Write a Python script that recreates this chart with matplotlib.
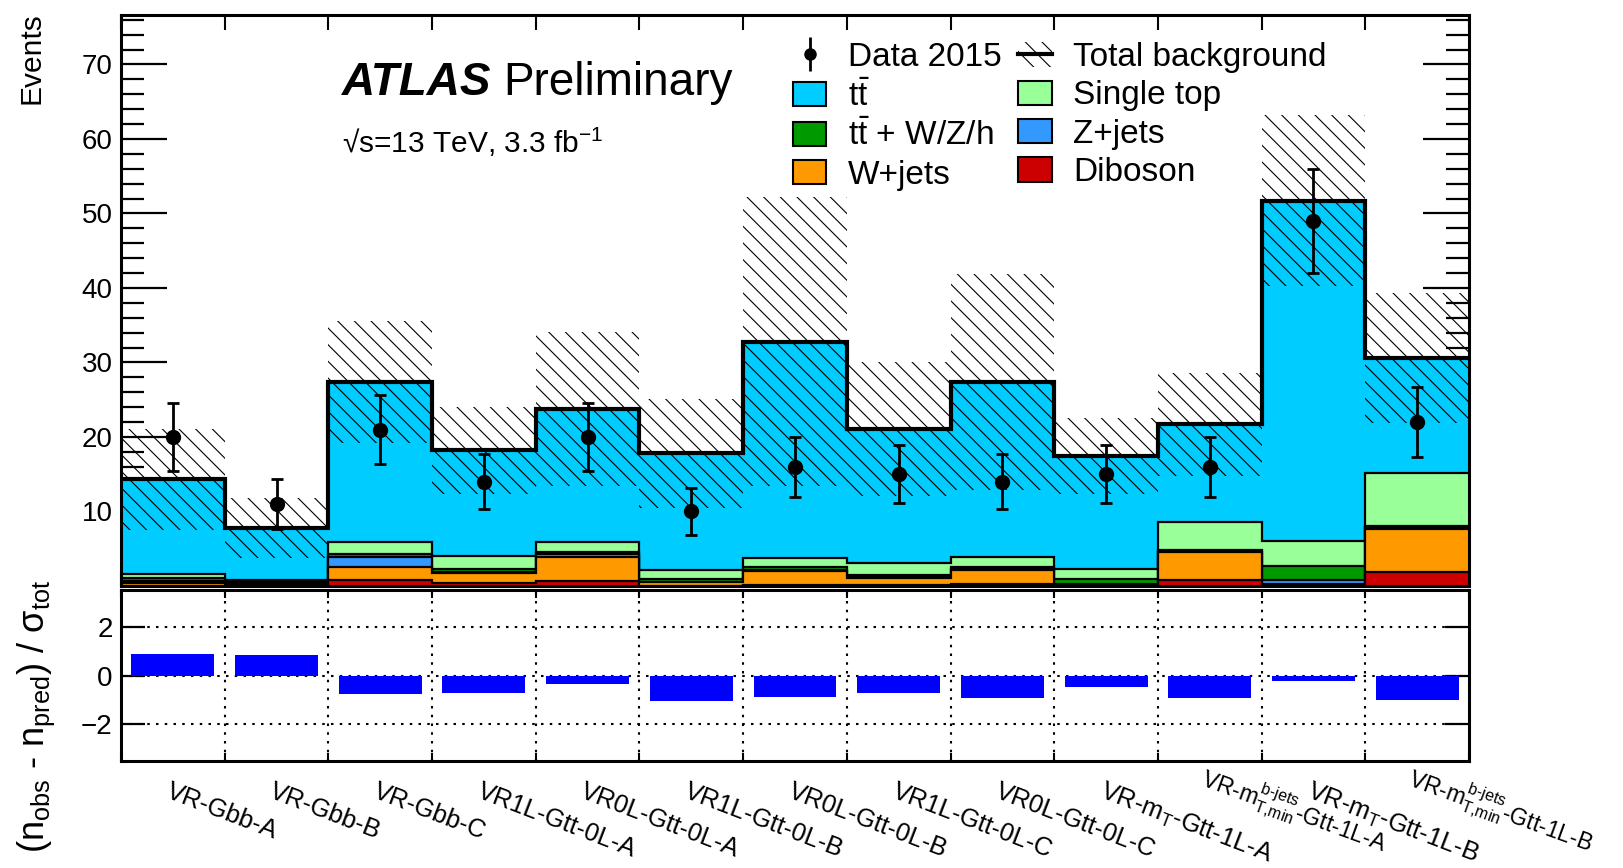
import numpy as np
import matplotlib
matplotlib.use("Agg")
import matplotlib.pyplot as plt
from matplotlib.patches import Patch
from matplotlib.lines import Line2D
from matplotlib.ticker import FixedLocator, MultipleLocator, NullFormatter

plt.rcParams['font.family'] = ['Liberation Sans', 'DejaVu Sans']
plt.rcParams['mathtext.fontset'] = 'custom'
plt.rcParams['mathtext.rm'] = 'Liberation Sans'
plt.rcParams['mathtext.it'] = 'Liberation Sans:italic'
plt.rcParams['mathtext.bf'] = 'Liberation Sans:bold'
plt.rcParams['mathtext.sf'] = 'Liberation Sans'
plt.rcParams['hatch.linewidth'] = 0.8

# ---------------- data ----------------
regions = ['VR-Gbb-A', 'VR-Gbb-B', 'VR-Gbb-C', 'VR1L-Gtt-0L-A', 'VR0L-Gtt-0L-A',
           'VR1L-Gtt-0L-B', 'VR0L-Gtt-0L-B', 'VR1L-Gtt-0L-C', 'VR0L-Gtt-0L-C',
           r'VR-m$_{\mathrm{T}}$-Gtt-1L-A',
           r'VR-m$^{\text{b-jets}}_{\text{T,min}}$-Gtt-1L-A',
           r'VR-m$_{\mathrm{T}}$-Gtt-1L-B',
           r'VR-m$^{\text{b-jets}}_{\text{T,min}}$-Gtt-1L-B']

diboson   = [0.05, 0.05, 0.8, 0.4, 0.7, 0.05, 0.2, 0.1, 0.25, 0.1, 0.8, 0.05, 1.9]
wjets     = [0.35, 0.15, 1.8, 1.4, 3.25, 0.5, 1.85, 1.0, 1.9, 0.1, 3.7, 0.2, 5.8]
zjets     = [0.3, 0.2, 1.3, 0.1, 0.4, 0.05, 0.1, 0.05, 0.15, 0.1, 0.1, 0.55, 0.1]
ttv       = [0.35, 0.2, 0.4, 0.4, 0.2, 0.3, 0.4, 0.3, 0.3, 0.7, 0.2, 1.95, 0.3]
singletop = [0.5, 0.2, 1.6, 1.7, 1.35, 1.2, 1.2, 1.6, 1.25, 1.3, 3.8, 3.35, 7.0]
ttbar     = [12.75, 7.0, 21.5, 14.2, 17.85, 15.7, 29.05, 18.05, 23.55, 15.2, 13.1, 45.6, 15.5]
bkg_unc   = [6.8, 4.0, 8.2, 5.8, 10.3, 7.3, 19.4, 9.0, 14.5, 5.1, 6.9, 11.5, 8.7]

data     = [20, 11, 21, 14, 20, 10, 16, 15, 14, 15, 16, 49, 22]
data_err = [4.6, 3.3, 4.6, 3.7, 4.5, 3.2, 4.0, 3.9, 3.7, 3.9, 4.0, 7.0, 4.7]

significance = [0.87, 0.83, -0.75, -0.71, -0.34, -1.03, -0.87, -0.71, -0.91, -0.46, -0.91, -0.22, -0.99]

labels = ['Diboson', 'W+jets', 'Z+jets', r't$\bar{\mathrm{t}}$ + W/Z/h', 'Single top', r't$\bar{\mathrm{t}}$']
colors = ['#CC0000', '#FF9900', '#3399FF', '#009900', '#99FF99', '#00CCFF']

# ---------------- figure ----------------
W, H = 1623, 868
fig = plt.figure(figsize=(W / 100, H / 100), dpi=100)
ax = fig.add_axes([121 / W, 1 - 586 / H, (1469 - 121) / W, (586 - 14.5) / H])
rax = fig.add_axes([121 / W, 1 - 761 / H, (1469 - 121) / W, (761 - 590) / H])

nb = len(regions)
edges = np.arange(nb + 1)
centers = edges[:-1] + 0.5

comps = np.array([diboson, wjets, zjets, ttv, singletop, ttbar])
cum = np.cumsum(comps, axis=0)
total = cum[-1]

z = 2
for i in range(len(comps) - 1, -1, -1):
    ax.stairs(cum[i], edges, baseline=0, fill=True, facecolor=colors[i], edgecolor='none', zorder=z)
    ax.stairs(cum[i], edges, baseline=None, color='black', lw=1.6, zorder=z + 0.5)
    z += 1

unc = np.array(bkg_unc)
ax.bar(centers, 2 * unc, bottom=total - unc, width=1.0, fill=False, hatch='\\\\',
       edgecolor='black', linewidth=0, zorder=15)
ax.stairs(total, edges, baseline=None, color='black', lw=3.0, zorder=16)

ax.errorbar(centers, data, yerr=data_err, fmt='o', color='black', ms=10,
            elinewidth=2, capsize=4, capthick=2, zorder=30)

ax.set_xlim(0, nb)
ax.set_ylim(0, 76.7)
ax.xaxis.set_major_locator(FixedLocator(edges))
ax.xaxis.set_major_formatter(NullFormatter())
ax.yaxis.set_major_locator(FixedLocator([10, 20, 30, 40, 50, 60, 70]))
ax.yaxis.set_minor_locator(MultipleLocator(2))
ax.tick_params(axis='x', which='both', direction='in', top=True, bottom=True, length=11, width=1.5)
ax.tick_params(axis='y', which='major', direction='in', left=True, right=True, length=33, width=1.6,
               labelsize=20, pad=6)
ax.tick_params(axis='y', which='minor', direction='in', left=True, right=True, length=16.5, width=1.6)
for sp in ax.spines.values():
    sp.set_linewidth(2.2)
    sp.set_zorder(40)

# legend
h_data = ax.errorbar([], [], yerr=[], fmt='o', color='black', ms=8, elinewidth=2)
h_tot = (Patch(facecolor='none', edgecolor='black', hatch='\\\\', linewidth=0),
         Line2D([], [], color='black', lw=3))
ph = [Patch(facecolor=c, edgecolor='black', linewidth=1.5) for c in colors]
handles = [h_data, ph[5], ph[3], ph[1], h_tot, ph[4], ph[2], ph[0]]
labs = ['Data 2015', labels[5], labels[3], labels[1], 'Total background', labels[4], labels[2], labels[0]]
fig.legend(handles, labs, ncol=2, loc='upper left', bbox_to_anchor=(793 / W, 1 - 42 / H),
           frameon=False, fontsize=24, handlelength=1.0, handleheight=0.75, handletextpad=0.65,
           columnspacing=0.5, labelspacing=0.22, borderpad=0, borderaxespad=0)

t_atlas = fig.text(342 / W, 1 - 95 / H, 'ATLAS', fontsize=33, fontweight='bold', fontstyle='italic')
fig.canvas.draw()
bb = t_atlas.get_window_extent(renderer=fig.canvas.get_renderer())
fig.text((bb.x1 + 12) / W, 1 - 95 / H, 'Preliminary', fontsize=33)
fig.text(342 / W, 1 - 153 / H, '\u221as=13 TeV, 3.3 fb$^{-1}$', fontsize=21.5)
fig.text(32 / W, 1 - 12 / H, 'Events', rotation=90, ha='center', va='top', fontsize=21.5)

# ratio panel
for yv in (-2, 0, 2):
    rax.axhline(yv, color='black', lw=1.5, ls=(0, (1.2, 3)), zorder=1)
for xv in edges[1:-1]:
    rax.axvline(xv, color='black', lw=1.5, ls=(0, (1.2, 3)), zorder=1)
rax.bar(centers, significance, width=0.8, color='#0000FF', zorder=2)
rax.set_xlim(0, nb)
rax.set_ylim(-3.5, 3.5)
rax.set_yticks([-2, 0, 2])
rax.set_yticklabels(['\u22122', '0', '2'])
rax.xaxis.set_major_locator(FixedLocator(edges))
rax.xaxis.set_major_formatter(NullFormatter())
rax.tick_params(axis='x', direction='in', top=True, bottom=True, length=6, width=1.5)
rax.tick_params(axis='y', direction='in', left=True, right=True, length=17, width=1.6,
                labelsize=20, pad=6)
for sp in rax.spines.values():
    sp.set_linewidth(2.2)
    sp.set_zorder(40)

trans = rax.get_xaxis_transform()
for c, lab in zip(centers, regions):
    long_lab = 'b-jets' in lab
    rax.text(c - (0.1 if long_lab else 0.08), -0.14 if long_lab else -0.21, lab,
             transform=trans, rotation=-20 if long_lab else -21, rotation_mode='anchor',
             ha='left', va='baseline', fontsize=16.5 if long_lab else 18.3)

fig.text(36 / W, 1 - 716 / H,
         r'(n$_{\mathrm{obs}}$ - n$_{\mathrm{pred}}$) / σ$_{\mathrm{tot}}$',
         rotation=90, ha='center', va='center', fontsize=26)

fig.savefig('out.png', dpi=100)
